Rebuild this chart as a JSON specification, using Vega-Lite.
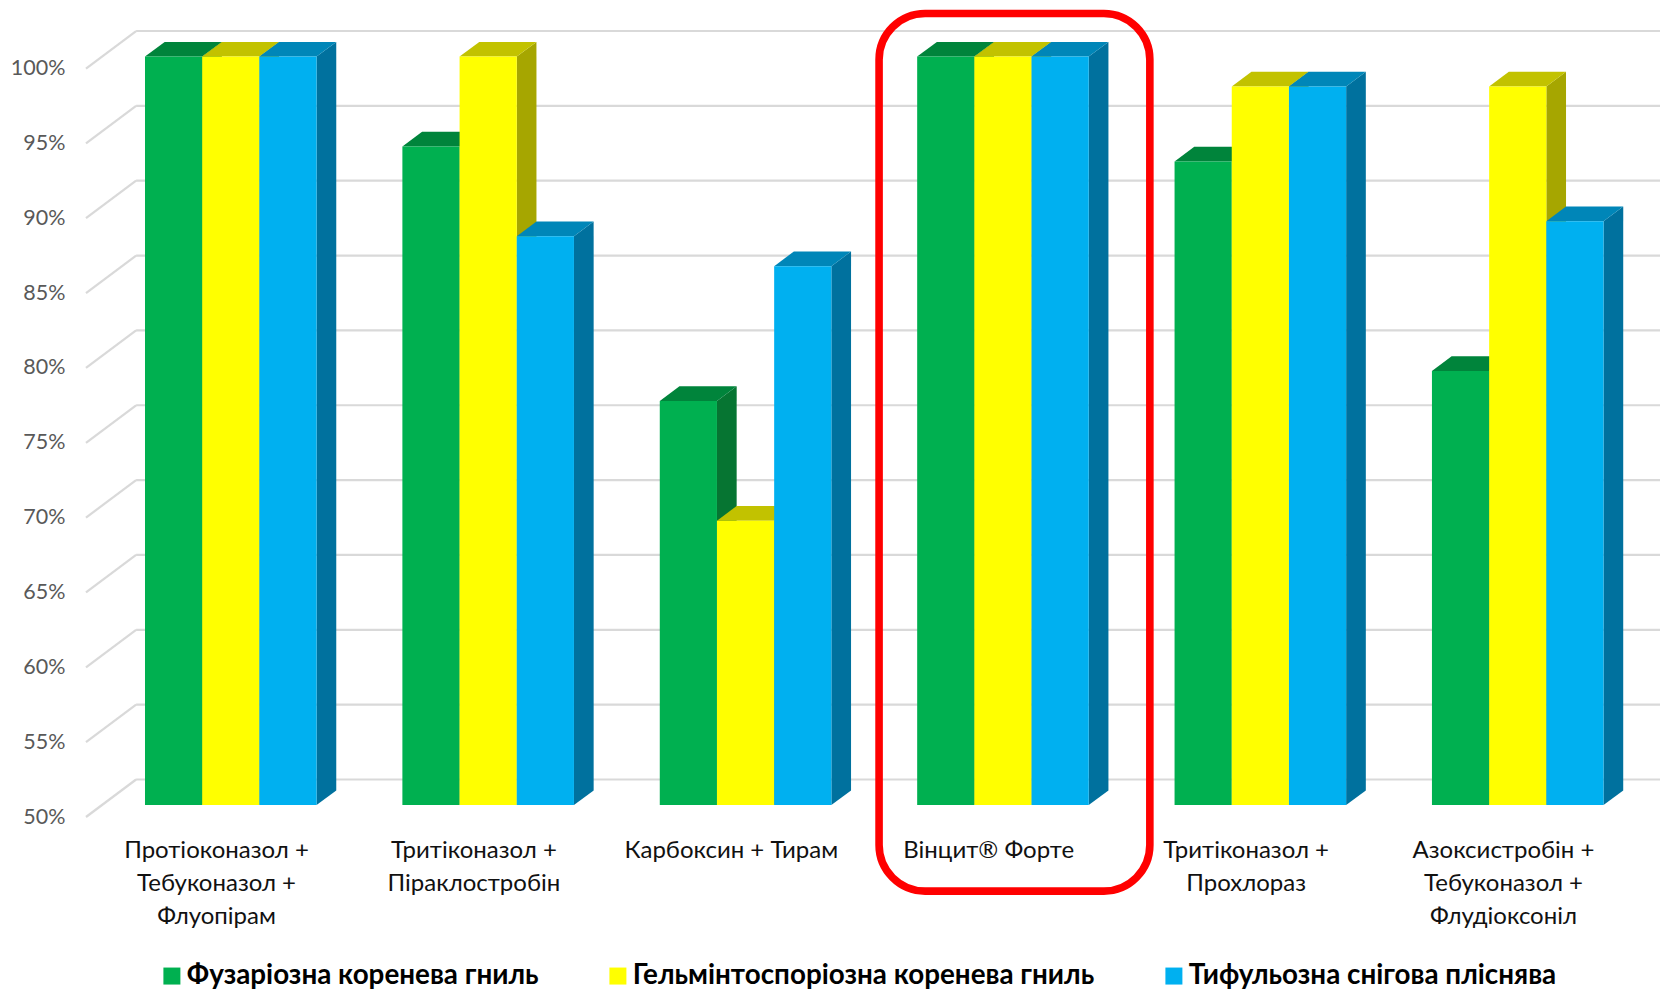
{
  "$schema": "https://vega.github.io/schema/vega-lite/v6.json",
  "width": 1574,
  "height": 816,
  "autosize": {"type": "none"},
  "padding": {"left": 86, "top": 1, "right": 0, "bottom": 174},
  "background": "white",
  "config": {"view": {"stroke": null}, "font": "Lato"},
  "data": {
    "values": [
      {"drug": "Протіоконазол + Тебуконазол + Флуопірам", "disease": "Фузаріозна коренева гниль", "value": 100},
      {"drug": "Протіоконазол + Тебуконазол + Флуопірам", "disease": "Гельмінтоспоріозна коренева гниль", "value": 100},
      {"drug": "Протіоконазол + Тебуконазол + Флуопірам", "disease": "Тифульозна снігова пліснява", "value": 100},
      {"drug": "Тритіконазол + Піраклостробін", "disease": "Фузаріозна коренева гниль", "value": 94},
      {"drug": "Тритіконазол + Піраклостробін", "disease": "Гельмінтоспоріозна коренева гниль", "value": 100},
      {"drug": "Тритіконазол + Піраклостробін", "disease": "Тифульозна снігова пліснява", "value": 88},
      {"drug": "Карбоксин + Тирам", "disease": "Фузаріозна коренева гниль", "value": 77},
      {"drug": "Карбоксин + Тирам", "disease": "Гельмінтоспоріозна коренева гниль", "value": 69},
      {"drug": "Карбоксин + Тирам", "disease": "Тифульозна снігова пліснява", "value": 86},
      {"drug": "Вінцит® Форте", "disease": "Фузаріозна коренева гниль", "value": 100},
      {"drug": "Вінцит® Форте", "disease": "Гельмінтоспоріозна коренева гниль", "value": 100},
      {"drug": "Вінцит® Форте", "disease": "Тифульозна снігова пліснява", "value": 100},
      {"drug": "Тритіконазол + Прохлораз", "disease": "Фузаріозна коренева гниль", "value": 93},
      {"drug": "Тритіконазол + Прохлораз", "disease": "Гельмінтоспоріозна коренева гниль", "value": 98},
      {"drug": "Тритіконазол + Прохлораз", "disease": "Тифульозна снігова пліснява", "value": 98},
      {"drug": "Азоксистробін + Тебуконазол + Флудіоксоніл", "disease": "Фузаріозна коренева гниль", "value": 79},
      {"drug": "Азоксистробін + Тебуконазол + Флудіоксоніл", "disease": "Гельмінтоспоріозна коренева гниль", "value": 98},
      {"drug": "Азоксистробін + Тебуконазол + Флудіоксоніл", "disease": "Тифульозна снігова пліснява", "value": 89}
    ]
  },
  "transform": [
    {"calculate": "indexof(['Протіоконазол + Тебуконазол + Флуопірам','Тритіконазол + Піраклостробін','Карбоксин + Тирам','Вінцит® Форте','Тритіконазол + Прохлораз','Азоксистробін + Тебуконазол + Флудіоксоніл'], datum.drug)", "as": "group"},
    {"calculate": "indexof(['Фузаріозна коренева гниль','Гельмінтоспоріозна коренева гниль','Тифульозна снігова пліснява'], datum.disease)", "as": "series"},
    {"calculate": "datum.group + datum.series * 0.2222", "as": "left"},
    {"calculate": "datum.left + 0.2222", "as": "right"}
  ],
  "layer": [
    {
      "data": {"values": [{"tick": 50}, {"tick": 55}, {"tick": 60}, {"tick": 65}, {"tick": 70}, {"tick": 75}, {"tick": 80}, {"tick": 85}, {"tick": 90}, {"tick": 95}, {"tick": 100}]},
      "transform": [{"calculate": "datum.tick + 2.505", "as": "back"}],
      "mark": {"type": "rule", "color": "#D9D9D9", "strokeWidth": 2.2},
      "encoding": {
        "x": {
          "datum": -0.0346,
          "type": "quantitative",
          "scale": {"domain": [-0.2292, 5.886], "nice": false, "zero": false},
          "axis": {
            "title": null,
            "domain": false,
            "ticks": false,
            "grid": false,
            "values": [0.276, 1.276, 2.276, 3.276, 4.276, 5.276],
            "labelExpr": "split(['Протіоконазол +|Тебуконазол +|Флуопірам','Тритіконазол +|Піраклостробін','Карбоксин + Тирам','Вінцит® Форте','Тритіконазол +|Прохлораз','Азоксистробін +|Тебуконазол +|Флудіоксоніл'][floor(datum.value)], '|')",
            "labelFont": "Lato",
            "labelFontSize": 24,
            "labelColor": "#111111",
            "labelPadding": 21,
            "labelLineHeight": 33,
            "labelLimit": 400,
            "labelOverlap": false,
            "labelFlush": false,
            "labelAlign": "center",
            "labelBaseline": "top"
          }
        },
        "x2": {"datum": 5.886},
        "y": {
          "field": "back",
          "type": "quantitative",
          "scale": {"domain": [50, 104.51], "nice": false, "zero": false},
          "axis": {
            "title": null,
            "domain": false,
            "ticks": false,
            "grid": false,
            "values": [50, 55, 60, 65, 70, 75, 80, 85, 90, 95, 100],
            "labelExpr": "datum.value + '%'",
            "labelFont": "Lato",
            "labelFontSize": 21.5,
            "labelColor": "#595959",
            "labelPadding": 21
          }
        }
      }
    },
    {
      "data": {"values": [{"tick": 50}, {"tick": 55}, {"tick": 60}, {"tick": 65}, {"tick": 70}, {"tick": 75}, {"tick": 80}, {"tick": 85}, {"tick": 90}, {"tick": 95}, {"tick": 100}]},
      "transform": [{"calculate": "datum.tick + 2.505", "as": "back"}],
      "mark": {"type": "rule", "color": "#D9D9D9", "strokeWidth": 2.2},
      "encoding": {
        "x": {"datum": -0.2292, "type": "quantitative"},
        "x2": {"datum": -0.0346},
        "y": {"field": "tick", "type": "quantitative"},
        "y2": {"field": "back"}
      }
    },
    {
      "transform": [
        {"calculate": "[0, 1]", "as": "t"},
        {"flatten": ["t"]},
        {"calculate": "datum.right + datum.t * 0.0765", "as": "sideX"},
        {"calculate": "datum.value + 0.795 + datum.t * 0.982", "as": "sideTop"},
        {"calculate": "50.795 + datum.t * 0.982", "as": "sideBase"}
      ],
      "mark": {"type": "area", "interpolate": "linear"},
      "encoding": {
        "x": {"field": "sideX", "type": "quantitative"},
        "y": {"field": "sideTop", "type": "quantitative"},
        "y2": {"field": "sideBase"},
        "detail": {"field": "drug"},
        "color": {
          "field": "disease",
          "type": "nominal",
          "legend": null,
          "scale": {
            "domain": ["Фузаріозна коренева гниль", "Гельмінтоспоріозна коренева гниль", "Тифульозна снігова пліснява"],
            "range": ["#067532", "#A6A600", "#00719E"]
          }
        }
      }
    },
    {
      "transform": [
        {"calculate": "[0, 1]", "as": "t"},
        {"flatten": ["t"]},
        {"calculate": "datum.left + datum.t * 0.0765", "as": "topLeft"},
        {"calculate": "datum.right + datum.t * 0.0765", "as": "topRight"},
        {"calculate": "datum.value + 0.795 + datum.t * 0.982", "as": "topY"}
      ],
      "mark": {"type": "area", "orient": "horizontal", "interpolate": "linear"},
      "encoding": {
        "y": {"field": "topY", "type": "quantitative"},
        "x": {"field": "topLeft", "type": "quantitative"},
        "x2": {"field": "topRight"},
        "detail": {"field": "drug"},
        "color": {
          "field": "disease",
          "type": "nominal",
          "legend": null,
          "scale": {
            "domain": ["Фузаріозна коренева гниль", "Гельмінтоспоріозна коренева гниль", "Тифульозна снігова пліснява"],
            "range": ["#00843B", "#C2C200", "#0086B8"]
          }
        }
      }
    },
    {
      "mark": {"type": "rect", "yOffset": -11.9, "y2Offset": -11.9},
      "encoding": {
        "x": {"field": "left", "type": "quantitative"},
        "x2": {"field": "right"},
        "y": {"field": "value", "type": "quantitative"},
        "y2": {"datum": 50},
        "color": {
          "field": "disease",
          "type": "nominal",
          "scale": {
            "domain": ["Фузаріозна коренева гниль", "Гельмінтоспоріозна коренева гниль", "Тифульозна снігова пліснява"],
            "range": ["#00B050", "#FFFF00", "#00B0F0"]
          },
          "legend": {
            "title": null,
            "orient": "none",
            "legendX": 72,
            "legendY": 961,
            "direction": "horizontal",
            "columns": 3,
            "columnPadding": 65,
            "symbolType": "square",
            "symbolSize": 289,
            "symbolStrokeWidth": 0,
            "labelFont": "Lato",
            "labelFontSize": 27.8,
            "labelFontWeight": "bold",
            "labelColor": "#000000",
            "labelOffset": 1,
            "labelLimit": 700
          }
        }
      }
    },
    {
      "data": {"values": [{"highlight": "Вінцит® Форте"}]},
      "mark": {"type": "rect", "fill": null, "stroke": "#FF0000", "strokeWidth": 7.6, "cornerRadius": 46, "clip": false},
      "encoding": {
        "x": {"datum": 2.852, "type": "quantitative"},
        "x2": {"datum": 3.904},
        "y": {"datum": 103.67, "type": "quantitative"},
        "y2": {"datum": 45.05}
      }
    }
  ],
  "resolve": {"scale": {"color": "independent"}}
}
